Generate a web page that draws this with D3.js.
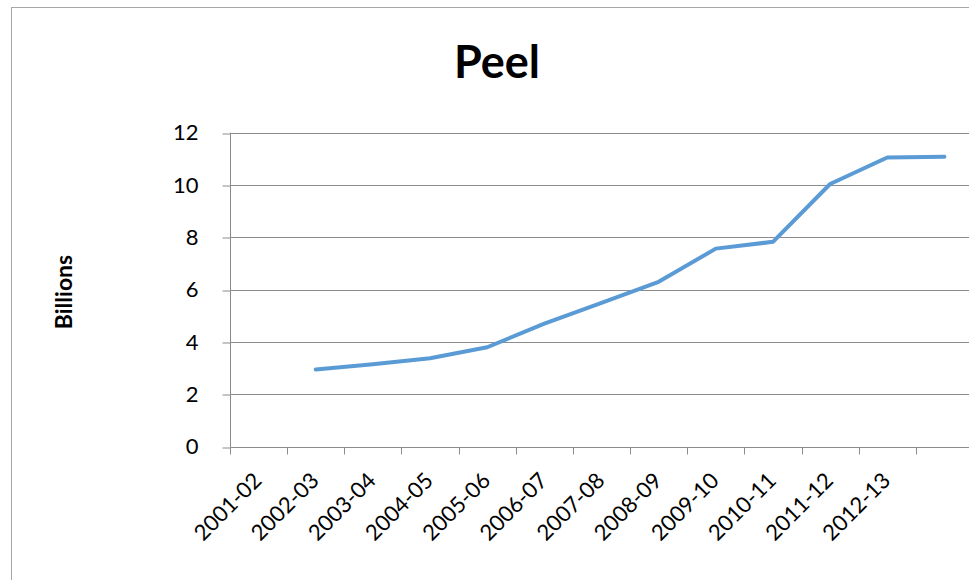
<!DOCTYPE html>
<html>
<head>
<meta charset="utf-8">
<script src="https://cdn.jsdelivr.net/npm/d3@7/dist/d3.min.js"></script>
<style>
  body { margin: 0; background: #fff; }
  svg { display: block; }
  text { font-family: Lato, "Noto Sans", sans-serif; fill: #000; }
</style>
</head>
<body>
<svg id="chart" width="969" height="580"></svg>
<script>
// Fiscal-year categories; the final slot is an unlabeled trailing category
const categories = ["2001-02", "2002-03", "2003-04", "2004-05", "2005-06", "2006-07",
                    "2007-08", "2008-09", "2009-10", "2010-11", "2011-12", "2012-13", ""];
// Values in billions; the first category has no value
const values = [null, 2.95, 3.15, 3.38, 3.80, 4.70, 5.50, 6.30, 7.57, 7.83, 10.04, 11.05, 11.08];
const yTicks = [0, 2, 4, 6, 8, 10, 12];
const title = "Peel";
const yTitle = "Billions";

const svg = d3.select("#chart");
const W = 969, H = 580;

// outer chart frame (extends past the right and bottom edges)
svg.append("rect")
  .attr("x", 11.5).attr("y", 7.5)
  .attr("width", 975).attr("height", 600)
  .attr("fill", "#fff").attr("stroke", "#a6a6a6").attr("stroke-width", 1);

const plot = { left: 230, right: 973, top: 132.7, bottom: 446.7 };

const x = d3.scaleBand().domain(categories).range([plot.left, plot.right]).padding(0);
const y = d3.scaleLinear().domain([0, 12]).range([plot.bottom, plot.top]);

svg.append("defs").append("clipPath").attr("id", "vis")
  .append("rect").attr("x", 0).attr("y", 0).attr("width", W).attr("height", H);

const g = svg.append("g").attr("clip-path", "url(#vis)");
const snap = v => Math.round(v) + 0.5;

// horizontal gridlines
g.append("g").selectAll("line").data(yTicks.filter(d => d > 0)).join("line")
  .attr("x1", plot.left).attr("x2", plot.right)
  .attr("y1", d => snap(y(d))).attr("y2", d => snap(y(d)))
  .attr("stroke", "#8c8c8c").attr("stroke-width", 1);

// y axis
const yAxis = d3.axisLeft(y).tickValues(yTicks).tickSize(8).tickPadding(24)
  .tickFormat(d3.format("d"));
const yg = g.append("g").attr("transform", `translate(${plot.left + 0.5},0)`).call(yAxis);
yg.select(".domain").remove();
yg.selectAll(".tick line").attr("stroke", "#8c8c8c")
  .attr("transform", d => `translate(0,${snap(y(d)) - y(d)})`);
yg.selectAll(".tick text").attr("font-size", 22).attr("font-family", "Lato, sans-serif")
  .attr("fill", "#000");
yg.append("line").attr("x1", 0).attr("x2", 0).attr("y1", y(12)).attr("y2", snap(y(0)))
  .attr("stroke", "#8c8c8c");

// x axis with ticks at category boundaries
const xb = snap(y(0));
const xg = g.append("g");
xg.append("line").attr("x1", plot.left).attr("x2", plot.right)
  .attr("y1", xb).attr("y2", xb).attr("stroke", "#8c8c8c");
xg.selectAll("line.tk").data(categories).join("line").attr("class", "tk")
  .attr("x1", d => snap(x(d))).attr("x2", d => snap(x(d)))
  .attr("y1", xb).attr("y2", xb + 7).attr("stroke", "#8c8c8c");
xg.selectAll("text").data(categories.filter(d => d !== "")).join("text")
  .attr("transform", d => `translate(${x(d) + x.bandwidth() / 2 + 4.5},${xb + 34.5}) rotate(-45)`)
  .attr("text-anchor", "end")
  .attr("font-size", 22)
  .text(d => d);

// data line
const line = d3.line()
  .defined(d => d[1] != null)
  .x(d => x(d[0]) + x.bandwidth() / 2)
  .y(d => y(d[1]));
g.append("path")
  .datum(categories.map((c, i) => [c, values[i]]))
  .attr("d", line)
  .attr("fill", "none").attr("stroke", "#5b9bd5").attr("stroke-width", 4)
  .attr("stroke-linejoin", "round").attr("stroke-linecap", "round");

// title
svg.append("text").attr("x", 497).attr("y", 78)
  .attr("text-anchor", "middle").attr("font-size", 45).attr("font-weight", "bold")
  .text(title);

// y-axis title
svg.append("text")
  .attr("transform", `translate(72,292) rotate(-90)`)
  .attr("text-anchor", "middle").attr("font-size", 23).attr("font-weight", "bold")
  .text(yTitle);
</script>
</body>
</html>
